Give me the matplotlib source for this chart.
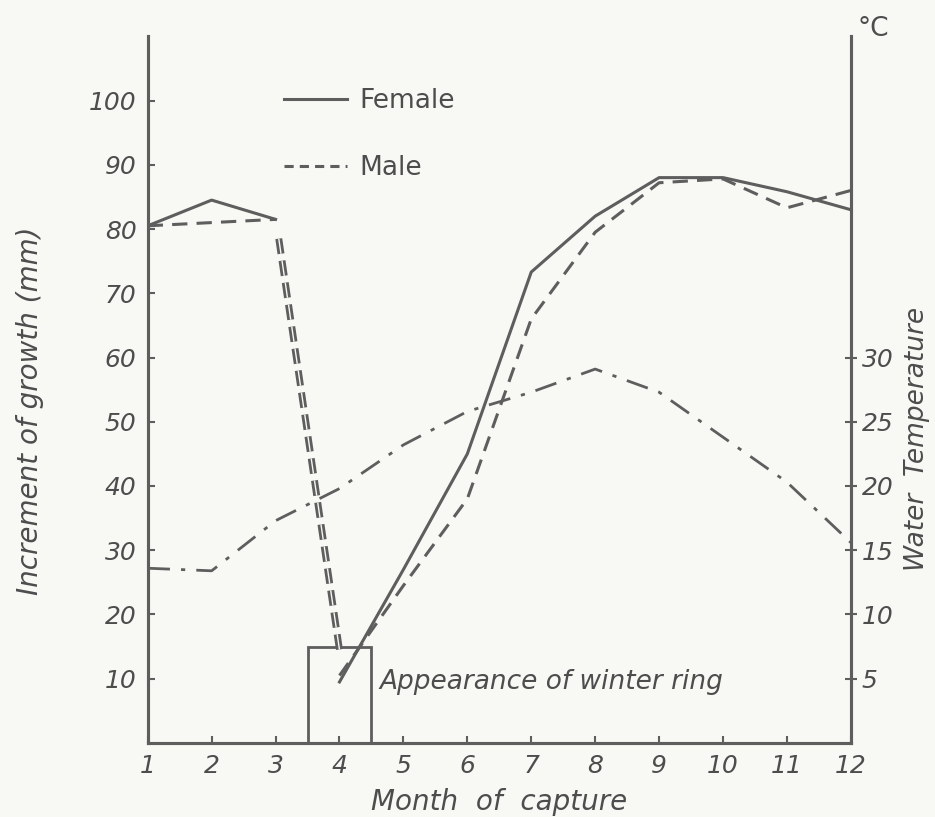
import numpy as np
import matplotlib
matplotlib.use("Agg")
import matplotlib.pyplot as plt
from matplotlib.patches import Rectangle
from matplotlib.lines import Line2D

# DATA
months = [1, 2, 3, 4, 5, 6, 7, 8, 9, 10, 11, 12]

# growth increment (mm); months 1-3 and 4-12 are drawn as separate pieces
female_early_x = [1, 2, 3]
female_early   = [80.5, 84.5, 81.5]
female_late_x  = [4, 5, 6, 7, 8, 9, 10, 11, 12]
female_late    = [9.5, 27.0, 45.0, 73.3, 82.0, 88.0, 88.0, 85.8, 83.0]

male_early_x = [1, 2, 3]
male_early   = [80.5, 81.0, 81.5]
male_late_x  = [4, 5, 6, 7, 8, 9, 10, 11, 12]
male_late    = [10.5, 24.5, 38.0, 66.0, 79.5, 87.2, 87.8, 83.3, 86.0]

# drop from month 3 to month 4 (double dashed)
drop_x = [3.05, 4.0]
drop_y = [78.5, 14.5]

# water temperature (deg C)
temp = [13.6, 13.4, 17.3, 19.8, 23.2, 25.8, 27.3, 29.1, 27.3, 23.8, 20.3, 15.6]

# winter ring box
ring_start, ring_width, ring_height = 3.5, 1.0, 15

left_ticks  = [10, 20, 30, 40, 50, 60, 70, 80, 90, 100]
right_ticks = [5, 10, 15, 20, 25, 30]

INK   = "#4d4d4d"
LINE  = "#5e5e5e"
PAPER = "#f8f8f5"

plt.rcParams["font.family"] = "DejaVu Sans"

fig = plt.figure(figsize=(9.35, 8.17), dpi=100, facecolor=PAPER)
ax = fig.add_axes([0.158, 0.0906, 0.752, 0.865])
ax.set_facecolor(PAPER)

ax.set_xlim(1, 12)
ax.set_ylim(0, 110)

# growth lines
ax.plot(female_early_x, female_early, color=LINE, lw=2.2)
ax.plot(female_late_x, female_late, color=LINE, lw=2.2)
ax.plot(male_early_x, male_early, color=LINE, lw=2.2, dashes=(5, 3))
ax.plot(male_late_x, male_late, color=LINE, lw=2.2, dashes=(5, 3))

# double dashed drop
ax.plot(drop_x, drop_y, color=LINE, lw=5, dashes=(2.2, 1.0))
ax.plot(drop_x, drop_y, color=PAPER, lw=1.0, dashes=(11, 5))

# winter ring box + label
ax.add_patch(Rectangle((ring_start, 0), ring_width, ring_height,
                       fill=False, edgecolor=LINE, lw=2))
ax.text(ring_start + ring_width + 0.12, 9.5, "Appearance of winter ring",
        fontsize=19, style="italic", color=INK, va="center", ha="left")

# temperature on right axis
ax2 = ax.twinx()
ax2.set_ylim(0, 55)
ax2.plot(months, temp, color=LINE, lw=2, dashes=(8, 4, 1.5, 4))

# spines / ticks
for a in (ax, ax2):
    a.spines["top"].set_visible(False)
    for s in a.spines.values():
        s.set_color(LINE)
        s.set_linewidth(2.2)

ax.set_xticks(months)
ax.set_xticklabels([str(m) for m in months])
ax.set_yticks(left_ticks)
ax.tick_params(axis="both", direction="in", length=5, width=1.5, colors=LINE,
               labelcolor=INK, labelsize=18, pad=8)
for lab in ax.get_xticklabels() + ax.get_yticklabels():
    lab.set_fontstyle("italic")

ax2.set_yticks(right_ticks)
ax2.tick_params(axis="y", direction="inout", length=8, width=1.5, colors=LINE,
                labelcolor=INK, labelsize=18, pad=4)
for lab in ax2.get_yticklabels():
    lab.set_fontstyle("italic")

ax.set_xlabel("Month  of  capture", fontsize=20, style="italic", color=INK)
ax.xaxis.set_label_coords(0.5, -0.064)
ax.set_ylabel("Increment of growth (mm)", fontsize=20, style="italic",
              color=INK)
ax.yaxis.set_label_coords(-0.148, 0.47)
ax2.set_ylabel("Water  Temperature", fontsize=19, style="italic", color=INK)
ax2.yaxis.set_label_coords(1.075, 0.43)
ax2.text(1.01, 0.992, "°C", transform=ax2.transAxes, fontsize=19,
         color=INK, ha="left", va="bottom")

# legend
handles = [Line2D([], [], color=LINE, lw=2.2),
           Line2D([], [], color=LINE, lw=2.2, dashes=(3, 2))]
ax.legend(handles, ["Female", "Male"], loc="upper left",
          bbox_to_anchor=(0.16, 0.96), frameon=False, fontsize=19,
          handlelength=2.4, labelspacing=1.55, handletextpad=0.45,
          labelcolor=INK)

fig.savefig("out.png", dpi=100, facecolor=PAPER)
